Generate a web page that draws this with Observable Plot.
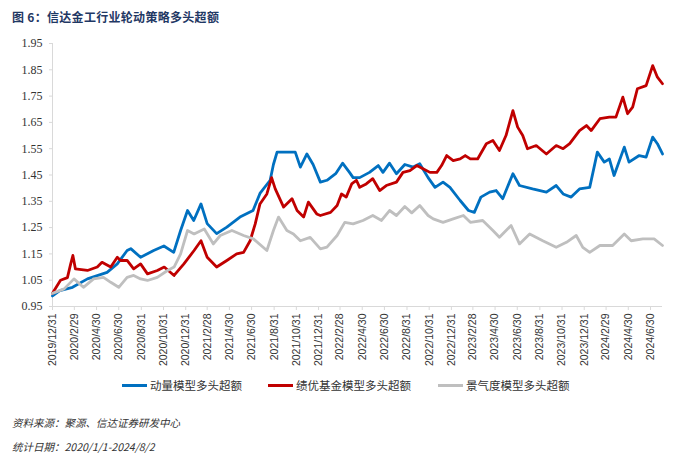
<!DOCTYPE html>
<html>
<head>
<meta charset="utf-8">
<script src="https://cdn.jsdelivr.net/npm/d3@7"></script>
<script src="https://cdn.jsdelivr.net/npm/@observablehq/plot@0.6"></script>
<style>
  html, body { margin: 0; padding: 0; background: #ffffff; }
  #wrap { position: relative; width: 700px; height: 458px; overflow: hidden; }
  #chart { position: absolute; left: 0; top: 0; }
  .title { position: absolute; left: 12px; top: 8px; font-family: "Noto Sans CJK SC", sans-serif; font-weight: 700; font-size: 12px; color: #1f3864; letter-spacing: 0.3px; }
  .legend { position: absolute; top: 377px; left: 0; width: 700px; height: 16px; font-family: "Noto Sans CJK SC", sans-serif; font-size: 11.5px; color: #333; }
  .legend .item { position: absolute; top: 0; display: flex; align-items: center; height: 16px; }
  .legend .sw { width: 25px; height: 3px; margin-right: 3px; }
  .cap { position: absolute; left: 12px; font-family: "Noto Sans CJK SC", sans-serif; font-style: italic; font-size: 10.5px; color: #333; }
</style>
</head>
<body>
<div id="wrap">
  <div id="chart"></div>
  <div class="title">图 6：信达金工行业轮动策略多头超额</div>
  <div class="legend" id="legend"></div>
  <div class="cap" style="top:415px">资料来源：聚源、信达证券研发中心</div>
  <div class="cap" style="top:439px">统计日期：2020/1/1-2024/8/2</div>
</div>
<script>
// ---- Data ----
const seriesNames = ["动量模型多头超额", "绩优基金模型多头超额", "景气度模型多头超额"];
const seriesColors = ["#0070c0", "#c00000", "#bfbfbf"];

const xTickLabels = ["2019/12/31","2020/2/29","2020/4/30","2020/6/30","2020/8/31","2020/10/31","2020/12/31",
  "2021/2/28","2021/4/30","2021/6/30","2021/8/31","2021/10/31","2021/12/31","2022/2/28","2022/4/30",
  "2022/6/30","2022/8/31","2022/10/31","2022/12/31","2023/2/28","2023/4/30","2023/6/30","2023/8/31",
  "2023/10/31","2023/12/31","2024/2/29","2024/4/30","2024/6/30"];
const yTickValues = [0.95, 1.05, 1.15, 1.25, 1.35, 1.45, 1.55, 1.65, 1.75, 1.85, 1.95];

const momentum = [
  ["2019-12-31",0.99],["2020-01-20",1.01],["2020-02-24",1.023],["2020-04-05",1.055],["2020-05-29",1.08],
  ["2020-06-26",1.112],["2020-07-23",1.163],["2020-08-02",1.17],["2020-08-29",1.137],["2020-10-04",1.163],
  ["2020-11-01",1.18],["2020-11-28",1.156],["2020-12-17",1.239],["2021-01-05",1.315],["2021-01-22",1.277],
  ["2021-02-11",1.34],["2021-02-28",1.265],["2021-03-26",1.227],["2021-04-23",1.252],["2021-05-29",1.29],
  ["2021-07-04",1.315],["2021-07-23",1.38],["2021-08-20",1.43],["2021-08-29",1.49],["2021-09-08",1.537],
  ["2021-10-28",1.537],["2021-11-11",1.48],["2021-11-29",1.53],["2021-12-16",1.49],["2022-01-05",1.423],
  ["2022-01-23",1.43],["2022-02-16",1.455],["2022-03-07",1.495],["2022-03-26",1.46],["2022-04-05",1.44],
  ["2022-04-23",1.44],["2022-05-20",1.46],["2022-06-13",1.486],["2022-06-26",1.46],["2022-07-14",1.495],
  ["2022-08-02",1.455],["2022-08-25",1.49],["2022-09-17",1.48],["2022-10-05",1.493],["2022-10-28",1.44],
  ["2022-11-16",1.403],["2022-12-08",1.423],["2022-12-27",1.403],["2023-01-24",1.353],["2023-02-16",1.315],
  ["2023-03-04",1.308],["2023-03-22",1.366],["2023-04-15",1.385],
  ["2023-05-03",1.391],["2023-05-21",1.36],["2023-06-18",1.455],["2023-07-06",1.41],["2023-08-11",1.397],
  ["2023-09-18",1.385],["2023-10-15",1.41],["2023-11-03",1.378],["2023-11-25",1.366],["2023-12-18",1.397],
  ["2024-01-15",1.403],["2024-02-05",1.537],["2024-02-24",1.499],["2024-03-09",1.511],["2024-03-22",1.448],
  ["2024-04-19",1.556],["2024-05-02",1.499],["2024-05-30",1.524],["2024-06-18",1.518],["2024-07-06",1.594],
  ["2024-07-19",1.569],["2024-08-02",1.53]
];

const fundQuality = [
  ["2019-12-31",1.0],["2020-01-22",1.05],["2020-02-10",1.06],["2020-02-19",1.112],["2020-02-25",1.144],
  ["2020-03-03",1.093],["2020-04-05",1.087],["2020-05-02",1.10],["2020-05-15",1.118],["2020-06-08",1.10],
  ["2020-06-26",1.137],["2020-07-05",1.125],["2020-07-23",1.125],["2020-08-10",1.093],["2020-08-29",1.112],
  ["2020-09-17",1.074],["2020-10-14",1.087],["2020-11-02",1.10],["2020-11-29",1.068],["2020-12-26",1.112],
  ["2021-01-23",1.163],["2021-02-11",1.20],["2021-02-28",1.137],["2021-03-26",1.10],["2021-04-23",1.125],
  ["2021-05-20",1.15],["2021-06-08",1.156],["2021-06-26",1.20],["2021-07-10",1.264],["2021-07-23",1.34],
  ["2021-08-11",1.378],["2021-08-24",1.44],["2021-09-03",1.397],["2021-09-26",1.328],["2021-10-19",1.36],
  ["2021-11-02",1.315],["2021-11-20",1.29],["2021-12-03",1.347],["2021-12-26",1.302],["2022-01-05",1.296],
  ["2022-02-02",1.308],["2022-02-20",1.334],["2022-03-04",1.378],["2022-03-17",1.366],["2022-04-01",1.416],
  ["2022-04-14",1.43],["2022-04-23",1.403],["2022-05-11",1.416],["2022-05-29",1.436],["2022-06-17",1.391],
  ["2022-07-05",1.41],["2022-08-02",1.423],["2022-08-20",1.46],["2022-09-08",1.467],["2022-09-27",1.486],
  ["2022-10-14",1.474],["2022-11-02",1.46],["2022-11-21",1.46],["2022-12-04",1.486],["2022-12-18",1.524],
  ["2023-01-05",1.505],["2023-01-24",1.511],["2023-02-07",1.524],["2023-02-21",1.511],
  ["2023-03-13",1.511],["2023-04-06",1.569],["2023-04-24",1.581],
  ["2023-05-12",1.543],["2023-05-30",1.60],["2023-06-18",1.695],["2023-07-01",1.632],["2023-07-15",1.60],
  ["2023-07-28",1.55],["2023-08-21",1.562],["2023-09-18",1.53],["2023-10-15",1.562],["2023-11-03",1.55],
  ["2023-11-21",1.569],["2023-12-18",1.619],["2024-01-06",1.638],["2024-01-19",1.619],["2024-02-12",1.664],
  ["2024-03-09",1.67],["2024-03-27",1.67],["2024-04-15",1.746],["2024-04-28",1.683],["2024-05-12",1.708],
  ["2024-05-25",1.778],["2024-06-18",1.79],["2024-07-06",1.866],["2024-07-19",1.822],["2024-08-02",1.797]
];

const prosperity = [
  ["2019-12-31",1.0],["2020-02-01",1.017],["2020-02-28",1.055],["2020-03-25",1.023],["2020-04-22",1.055],
  ["2020-05-19",1.061],["2020-06-08",1.042],["2020-06-30",1.023],["2020-07-23",1.061],["2020-08-10",1.068],
  ["2020-08-29",1.055],["2020-09-17",1.049],["2020-10-14",1.061],["2020-11-11",1.087],["2020-11-29",1.10],
  ["2020-12-17",1.15],["2021-01-05",1.239],["2021-01-23",1.226],["2021-02-20",1.245],["2021-03-17",1.188],
  ["2021-04-05",1.22],["2021-05-07",1.239],["2021-06-08",1.22],["2021-07-05",1.207],["2021-08-11",1.163],
  ["2021-08-29",1.239],["2021-09-12",1.29],["2021-10-05",1.239],["2021-10-23",1.226],["2021-11-11",1.20],
  ["2021-12-08",1.213],["2022-01-05",1.169],["2022-01-23",1.176],["2022-02-20",1.22],["2022-03-13",1.27],
  ["2022-04-05",1.264],["2022-05-02",1.277],["2022-05-29",1.296],["2022-06-22",1.277],["2022-07-14",1.315],
  ["2022-08-02",1.296],["2022-08-25",1.33],["2022-09-13",1.306],["2022-10-05",1.334],["2022-10-28",1.296],
  ["2022-11-11",1.283],["2022-12-08",1.27],["2023-01-05",1.283],["2023-02-02",1.296],["2023-02-21",1.27],
  ["2023-03-27",1.277],
  ["2023-04-24",1.239],["2023-05-12",1.213],["2023-06-13",1.258],["2023-07-06",1.188],["2023-08-03",1.226],
  ["2023-09-08",1.20],["2023-10-15",1.175],["2023-11-12",1.194],["2023-12-09",1.22],["2023-12-27",1.175],
  ["2024-01-15",1.156],["2024-02-12",1.182],["2024-03-18",1.182],["2024-04-19",1.226],["2024-05-08",1.20],
  ["2024-06-09",1.207],["2024-07-10",1.207],["2024-08-02",1.182]
];

// ---- Build table ----
const parse = d3.utcParse("%Y-%m-%d");
const parseTick = d3.utcParse("%Y/%m/%d");
const allSeries = [momentum, fundQuality, prosperity];
const rows = [];
allSeries.forEach((s, i) => s.forEach(([d, v]) => rows.push({date: parse(d), value: v, series: seriesNames[i]})));
const xTicks = xTickLabels.map(t => parseTick(t));
const fmtTick = d => `${d.getUTCFullYear()}/${d.getUTCMonth() + 1}/${d.getUTCDate()}`;
const xStart = parse("2019-12-31"), xEnd = parse("2024-08-02");

const chart = Plot.plot({
  width: 700,
  height: 458,
  marginLeft: 52,
  marginRight: 38,
  marginTop: 43,
  marginBottom: 152,
  style: {fontFamily: "'Liberation Sans', Arial, sans-serif", background: "transparent", color: "#333"},
  x: {type: "utc", domain: [xStart, xEnd]},
  y: {domain: [0.95, 1.95]},
  color: {domain: seriesNames, range: seriesColors},
  marks: [
    Plot.ruleX([xStart], {y1: 0.95, y2: 1.95, stroke: "#d9d9d9", strokeWidth: 1}),
    Plot.ruleY([0.95], {x1: xStart, x2: xEnd, stroke: "#d9d9d9", strokeWidth: 1}),
    Plot.axisY({ticks: yTickValues, tickFormat: d => d.toFixed(2), tickSize: 3, tickPadding: 7,
      stroke: "#d9d9d9", fontSize: 12, fontFamily: "'Liberation Serif', 'Times New Roman', serif", fill: "#333", label: null}),
    Plot.axisX({ticks: xTicks, tickFormat: fmtTick, tickSize: 4, tickPadding: 3, tickRotate: -90,
      stroke: "#d9d9d9", fontSize: 10.5, fill: "#333", label: null}),
    Plot.line(rows, {x: "date", y: "value", z: "series", stroke: "series", strokeWidth: 2.8, strokeLinejoin: "round", curve: "linear"})
  ]
});
document.getElementById("chart").appendChild(chart);

// ---- Legend ----
const legendPos = [122, 268, 438];
const legend = document.getElementById("legend");
seriesNames.forEach((name, i) => {
  const item = document.createElement("div");
  item.className = "item";
  item.style.left = legendPos[i] + "px";
  item.innerHTML = `<span class="sw" style="background:${seriesColors[i]}"></span><span>${name}</span>`;
  legend.appendChild(item);
});
</script>
</body>
</html>
